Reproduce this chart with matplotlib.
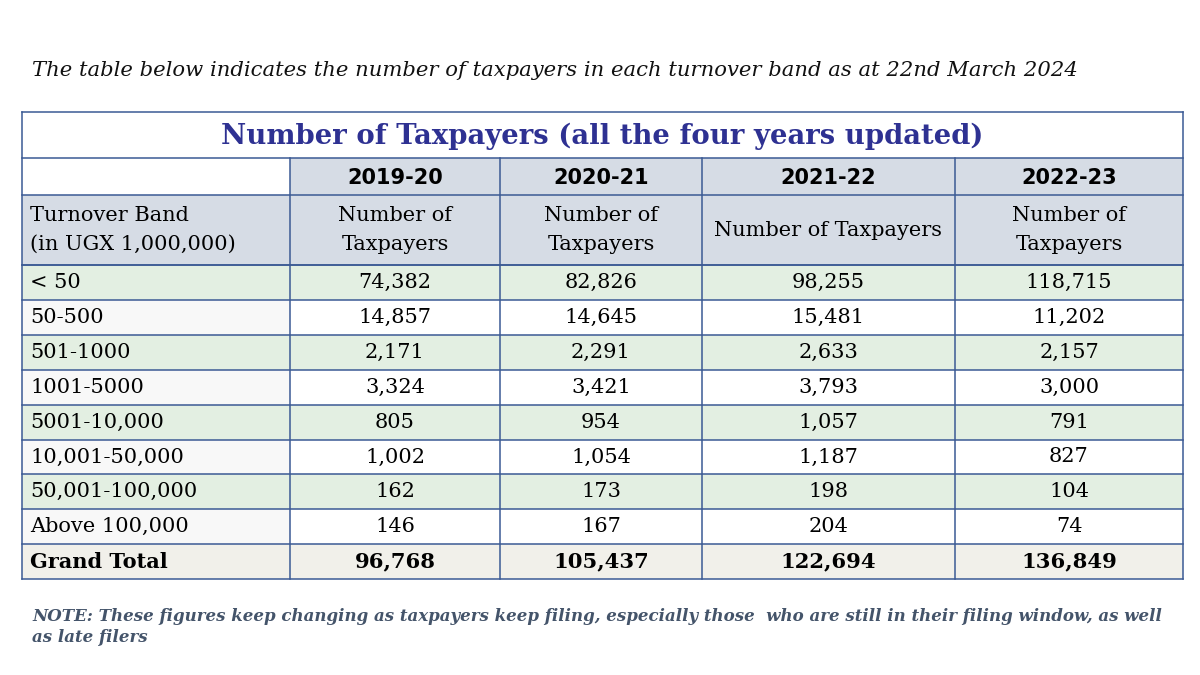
import matplotlib.pyplot as plt
from matplotlib.patches import Rectangle

years = ["2019-20", "2020-21", "2021-22", "2022-23"]
bands = ["< 50", "50-500", "501-1000", "1001-5000", "5001-10,000",
         "10,001-50,000", "50,001-100,000", "Above 100,000"]
y2019 = [74382, 14857, 2171, 3324, 805, 1002, 162, 146]
y2020 = [82826, 14645, 2291, 3421, 954, 1054, 173, 167]
y2021 = [98255, 15481, 2633, 3793, 1057, 1187, 198, 204]
y2022 = [118715, 11202, 2157, 3000, 791, 827, 104, 74]
totals = [96768, 105437, 122694, 136849]

intro = "The table below indicates the number of taxpayers in each turnover band as at 22nd March 2024"
title = "Number of Taxpayers (all the four years updated)"
note = ("NOTE: These figures keep changing as taxpayers keep filing, especially those  who are still in their filing window, as well\n"
        "as late filers")

SERIF = "DejaVu Serif"
SANS = "DejaVu Sans"
BORDER = "#3b5a94"
HEAD = "#d6dce5"
GREEN = "#e3efe2"
TOTAL = "#f1f0ea"
FS = 15

fig = plt.figure(figsize=(12, 6.75), dpi=100)
ax = fig.add_axes([0, 0, 1, 1])
ax.set_xlim(0, 1200)
ax.set_ylim(675, 0)
ax.axis("off")

cols = [22, 290, 500, 702, 955, 1183]
top, t_bot, y_bot, h_bot = 112, 158, 195, 265
rh = 34.9
row_tops = [h_bot + i * rh for i in range(len(bands) + 1)]
bottom = row_tops[-1] + rh


def cell(x0, x1, y0, y1, color):
    ax.add_patch(Rectangle((x0, y0), x1 - x0, y1 - y0, facecolor=color,
                           edgecolor="none", zorder=1))


ax.text(32, 71, intro, fontsize=15.2, family=SERIF, style="italic",
        color="#111111", va="center")

# backgrounds
cell(cols[0], cols[-1], top, t_bot, "white")
cell(cols[0], cols[1], t_bot, y_bot, "white")
cell(cols[1], cols[-1], t_bot, y_bot, HEAD)
cell(cols[0], cols[-1], y_bot, h_bot, HEAD)
for i in range(len(bands)):
    y0 = row_tops[i]
    if i % 2 == 0:
        cell(cols[0], cols[-1], y0, y0 + rh, GREEN)
    else:
        cell(cols[0], cols[1], y0, y0 + rh, "#f8f8f8")
        cell(cols[1], cols[-1], y0, y0 + rh, "white")
cell(cols[0], cols[-1], row_tops[-1], bottom, TOTAL)

# grid lines
lw = 1.1
hlines = [top, t_bot, y_bot, h_bot] + row_tops + [bottom]
for y in hlines:
    ax.plot([cols[0], cols[-1]], [y, y], color=BORDER, lw=lw, zorder=3)
ax.plot([cols[0]] * 2, [top, bottom], color=BORDER, lw=lw, zorder=3)
ax.plot([cols[-1]] * 2, [top, bottom], color=BORDER, lw=lw, zorder=3)
for x in cols[1:-1]:
    ax.plot([x, x], [t_bot, bottom], color=BORDER, lw=lw, zorder=3)

ax.text((cols[0] + cols[-1]) / 2, (top + t_bot) / 2 + 1, title, fontsize=19.8,
        family=SERIF, weight="bold", color="#2e3192", ha="center", va="center", zorder=4)

centers = [(cols[i + 1] + cols[i + 2]) / 2 for i in range(4)]
for cx, yr in zip(centers, years):
    ax.text(cx, (t_bot + y_bot) / 2 + 1, yr, fontsize=15, family=SANS, weight="bold",
            ha="center", va="center", zorder=4)

hy = (y_bot + h_bot) / 2
ax.text(30, hy, "Turnover Band\n(in UGX 1,000,000)", fontsize=FS, family=SERIF,
        va="center", linespacing=1.65, zorder=4)
for k, cx in enumerate(centers):
    lab = "Number of Taxpayers" if k == 2 else "Number of\nTaxpayers"
    ax.text(cx, hy, lab, fontsize=FS, family=SERIF, ha="center", va="center",
            linespacing=1.65, zorder=4)

series = [y2019, y2020, y2021, y2022]
for i, band in enumerate(bands):
    cy = row_tops[i] + rh / 2
    ax.text(30, cy, band, fontsize=FS, family=SERIF, va="center", zorder=4)
    for cx, s in zip(centers, series):
        ax.text(cx, cy, f"{s[i]:,}", fontsize=FS, family=SERIF,
                ha="center", va="center", zorder=4)

cy = row_tops[-1] + rh / 2
ax.text(30, cy, "Grand Total", fontsize=FS, family=SERIF, weight="bold",
        va="center", zorder=4)
for cx, t in zip(centers, totals):
    ax.text(cx, cy, f"{t:,}", fontsize=15.2, family=SERIF, weight="bold",
            ha="center", va="center", zorder=4)

ax.text(32, 627, note, fontsize=12, family=SERIF, weight="bold", style="italic",
        color="#44546a", va="center", linespacing=1.25)

fig.savefig("out.png", dpi=100)
